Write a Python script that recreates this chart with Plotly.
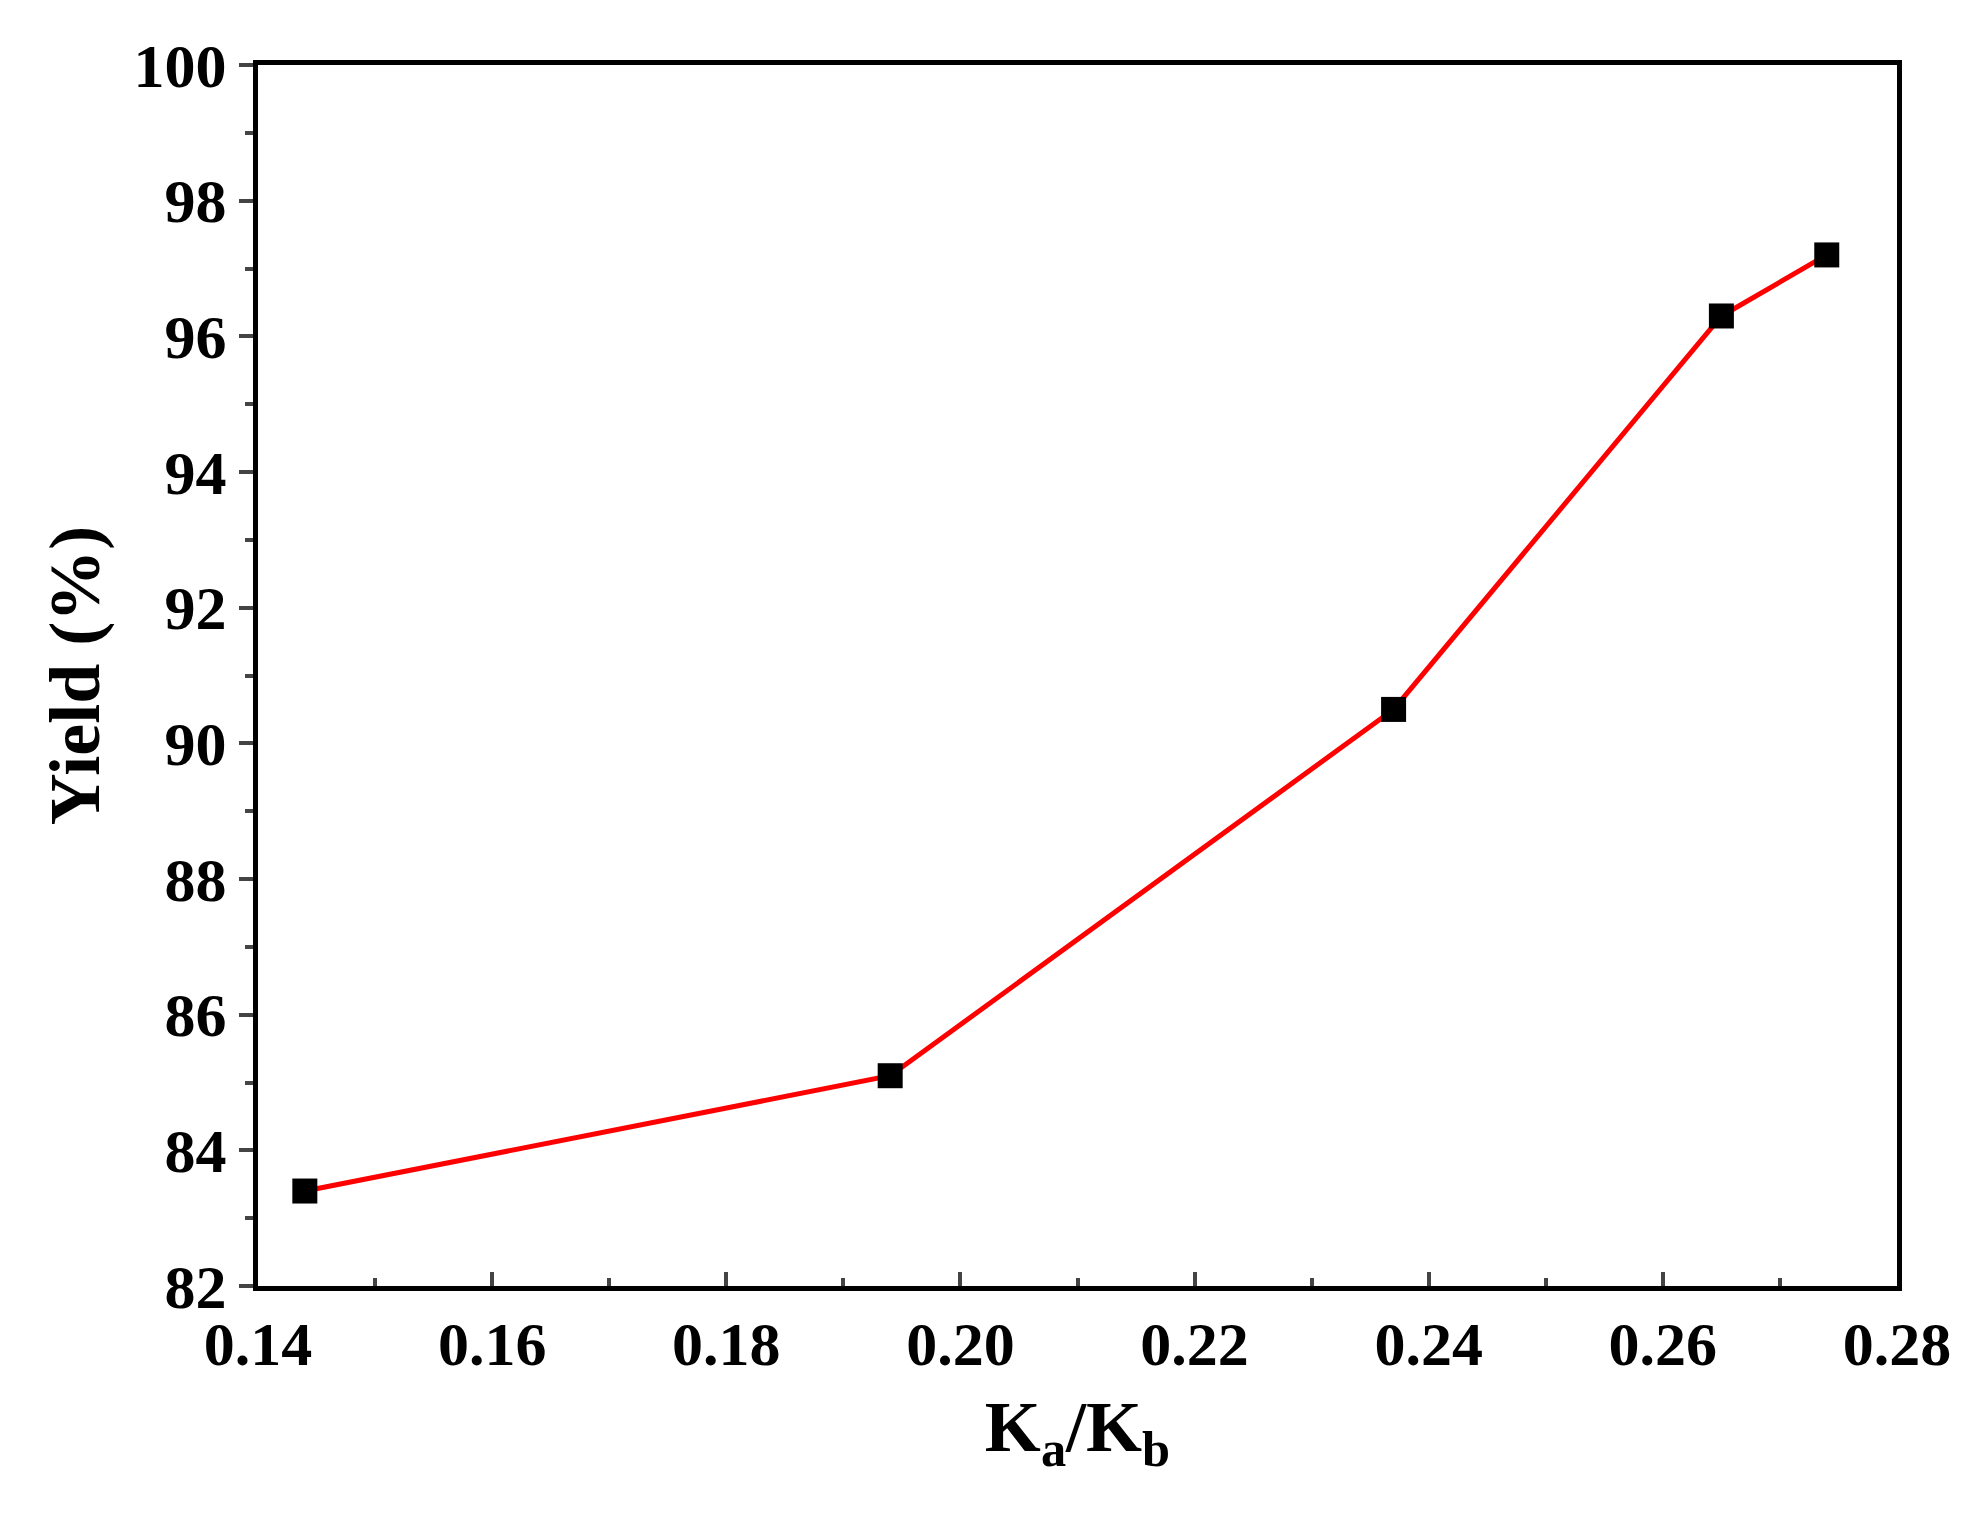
import plotly.graph_objects as go

ratio = [0.144, 0.194, 0.237, 0.265, 0.274]
yield_pct = [83.4, 85.1, 90.5, 96.3, 97.2]
xticks = [0.14, 0.16, 0.18, 0.20, 0.22, 0.24, 0.26, 0.28]
xticklabels = ["0.14", "0.16", "0.18", "0.20", "0.22", "0.24", "0.26", "0.28"]
yticks = [82, 84, 86, 88, 90, 92, 94, 96, 98, 100]

fig = go.Figure(go.Scatter(
    x=ratio, y=yield_pct, mode="lines+markers",
    line=dict(color="#ff0000", width=5),
    marker=dict(symbol="square", size=25, color="black"),
))
font = dict(family="Liberation Serif", size=62, color="black")
fig.update_layout(
    width=1984, height=1516, plot_bgcolor="white", paper_bgcolor="white",
    margin=dict(l=250, r=95, t=57, b=238), showlegend=False,
    font=font,
)
fig.update_xaxes(range=[0.14, 0.28], tickvals=xticks, ticktext=[f"<b>{t}</b>" for t in xticklabels],
                 ticks="inside", ticklen=14, tickwidth=4,
                 minor=dict(dtick=0.01, ticks="inside", ticklen=8, tickwidth=4),
                 showline=True, linewidth=5, linecolor="black", mirror=True, showgrid=False,
                 title=dict(text="<b>K<sub>a</sub>/K<sub>b</sub></b>", font=dict(size=72), standoff=25))
fig.update_yaxes(range=[82, 100], tickvals=yticks, ticktext=[f"<b>{t}</b>" for t in yticks],
                 ticks="outside", ticklen=14, tickwidth=4,
                 minor=dict(dtick=1, ticks="outside", ticklen=8, tickwidth=4),
                 showline=True, linewidth=5, linecolor="black", mirror=True, showgrid=False,
                 title=dict(text="<b>Yield (%)</b>", font=dict(size=72), standoff=12))
fig.write_html("out.html")
